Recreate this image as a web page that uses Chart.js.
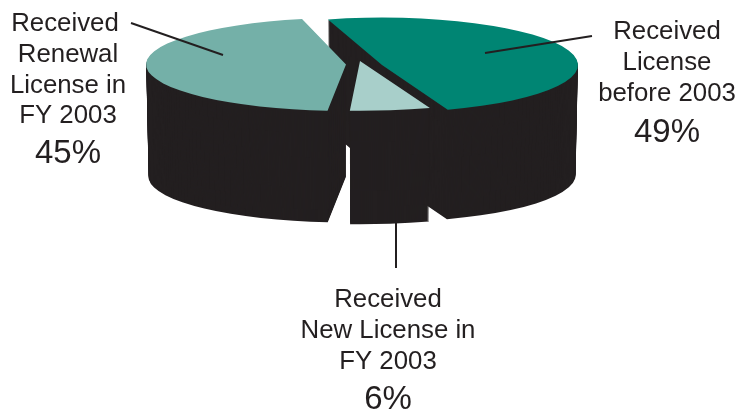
<!DOCTYPE html>
<html lang="en">
<head>
    <meta charset="UTF-8">
    <title>License status, FY 2003</title>
    <script src="https://cdn.jsdelivr.net/npm/chart.js"></script>
    <style>
        body {
            margin: 0;
            background-color: white;
        }

        canvas {
            display: block;
        }
    </style>
</head>
<body>
    <canvas id="chart" width="738" height="410"></canvas>

    <script>
        const categories = ['Received License before 2003', 'Received New License in FY 2003', 'Received Renewal License in FY 2003'];
        const shares = [49, 6, 45];
        const sliceColors = ['#008573', '#a8cfca', '#74b0a8'];
        const labelLines = [
            ['Received', 'License', 'before 2003'],
            ['Received', 'New License in', 'FY 2003'],
            ['Received', 'Renewal', 'License in', 'FY 2003']
        ];

        // Where each label block sits: centre x, first baseline, baseline of the percentage
        const labelPlace = [
            { x: 667, y: 39, pctY: 142, firstDx: 0 },
            { x: 388, y: 307, pctY: 409, firstDx: 0 },
            { x: 68, y: 31, pctY: 163, firstDx: -3 }
        ];
        const leaders = [
            [485, 53, 592, 36],
            [396, 223, 396, 268],
            [131, 23, 223, 55]
        ];

        // Tilted-disc view: how flat the disc is, how far it is pulled apart, wall height
        const PIE_CENTER_Y = 64;
        const FLATTEN = 0.235;
        const WALL_COLOR = '#231f20';
        const sliceView = [
            { dx: 20, dy: 1, turn: -1, growX: 0.99, growY: 1.02, wall: 110 },
            { dx: -2, dy: -3, turn: -0.3, growX: 1.09, growY: 1.07, wall: 114 },
            { dx: -16, dy: 0.5, turn: 2.3, growX: 1.01, growY: 1, wall: 112 }
        ];

        function placeSlice(ctx, arc, view, drop, shrink) {
            ctx.translate(arc.x + view.dx, PIE_CENTER_Y + view.dy + drop);
            ctx.scale(view.growX * shrink, FLATTEN * view.growY * shrink);
            ctx.rotate(view.turn * Math.PI / 180);
            ctx.translate(-arc.x, -arc.y);
        }

        const tiltedPie = {
            id: 'tiltedPie',
            beforeDatasetsDraw(chart) {
                const ctx = chart.ctx;
                const arcs = chart.getDatasetMeta(0).data;

                // Walls first, one black copy per pixel of height
                arcs.forEach((arc, i) => {
                    const view = sliceView[i];
                    const topOptions = arc.options;
                    arc.options = Object.assign(Object.create(topOptions), { backgroundColor: WALL_COLOR });
                    for (let d = view.wall; d > 0; d--) {
                        ctx.save();
                        placeSlice(ctx, arc, view, d, 1 - 0.012 * d / view.wall);
                        arc.draw(ctx);
                        ctx.restore();
                    }
                    arc.options = topOptions;
                });

                // Then the coloured tops
                arcs.forEach((arc, i) => {
                    ctx.save();
                    placeSlice(ctx, arc, sliceView[i], 0, 1);
                    arc.draw(ctx);
                    ctx.restore();
                });
                return false;
            },
            afterDraw(chart) {
                const ctx = chart.ctx;
                ctx.save();
                ctx.strokeStyle = WALL_COLOR;
                ctx.lineWidth = 2;
                leaders.forEach(l => {
                    ctx.beginPath();
                    ctx.moveTo(l[0], l[1]);
                    ctx.lineTo(l[2], l[3]);
                    ctx.stroke();
                });

                ctx.fillStyle = WALL_COLOR;
                ctx.textAlign = 'center';
                labelLines.forEach((lines, i) => {
                    const place = labelPlace[i];
                    ctx.font = '25.8px "Liberation Sans"';
                    lines.forEach((line, n) => {
                        const x = n === 0 ? place.x + place.firstDx : place.x;
                        ctx.fillText(line, x, place.y + n * 30.8);
                    });
                    ctx.font = '33px "Liberation Sans"';
                    ctx.fillText(shares[i] + '%', place.x, place.pctY);
                });
                ctx.restore();
            }
        };

        new Chart(document.getElementById('chart').getContext('2d'), {
            type: 'pie',
            data: {
                labels: categories,
                datasets: [{ data: shares, backgroundColor: sliceColors, borderWidth: 0 }]
            },
            options: {
                responsive: false,
                animation: false,
                rotation: -15,
                radius: 198,
                layout: { padding: { right: 14 } },
                plugins: { legend: { display: false }, tooltip: { enabled: false } }
            },
            plugins: [tiltedPie]
        });
    </script>
</body>
</html>
